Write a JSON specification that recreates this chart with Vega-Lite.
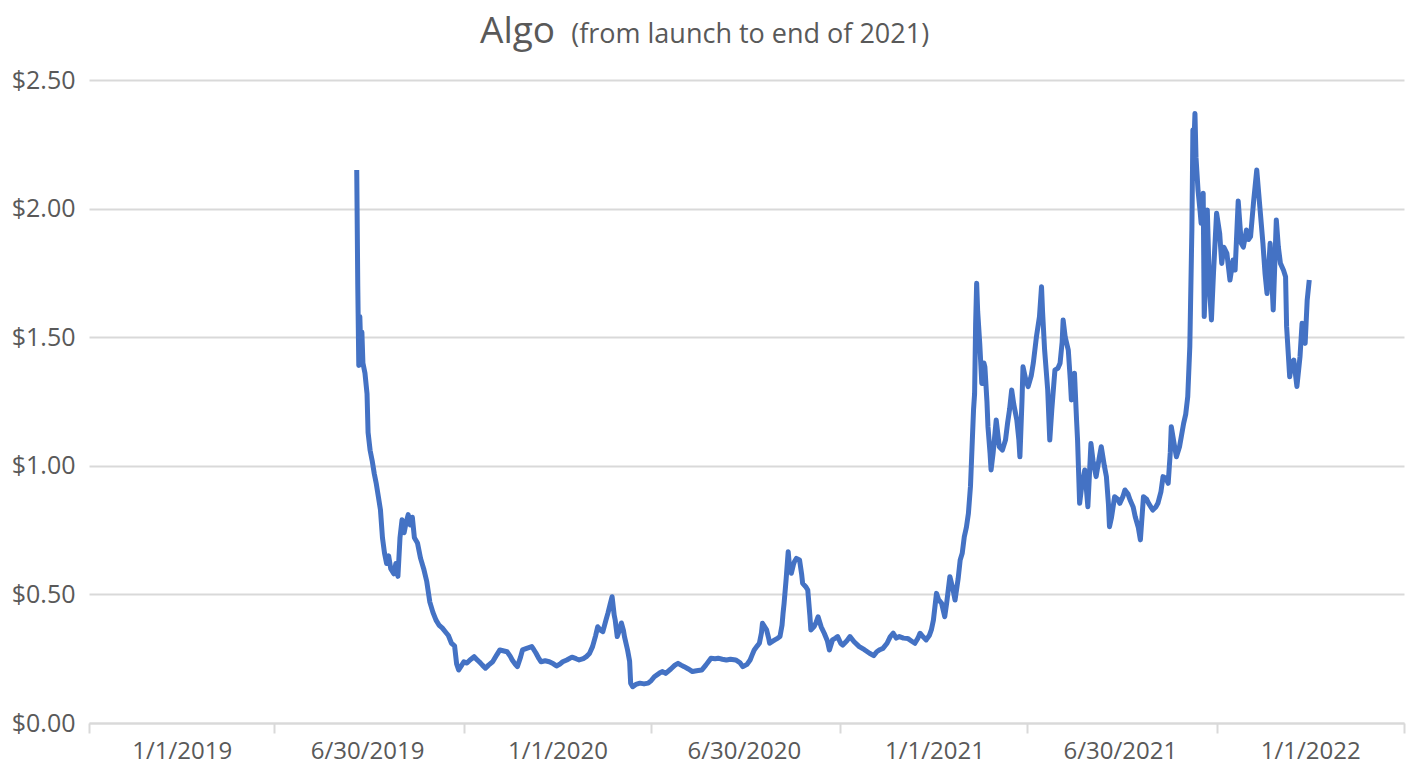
{
  "$schema": "https://vega.github.io/schema/vega-lite/v6.json",
  "autosize": {"type": "none"},
  "width": 1315,
  "height": 643,
  "padding": {"left": 89, "top": 80, "right": 9, "bottom": 46},
  "background": "white",
  "title": {
    "text": "Algo",
    "subtitle": "\u200b\u00a0\u00a0\u00a0\u00a0\u00a0\u00a0\u00a0\u00a0\u00a0\u00a0\u00a0\u00a0\u00a0(from launch to end of 2021)",
    "anchor": "start",
    "frame": "group",
    "dx": 391,
    "font": "Open Sans",
    "fontSize": 37,
    "fontWeight": "normal",
    "color": "#595959",
    "subtitleFont": "Open Sans",
    "subtitleFontSize": 27,
    "subtitleColor": "#595959",
    "subtitlePadding": -29,
    "offset": 17
  },
  "config": {"view": {"stroke": null}},
  "data": {"values": [
    {"date":"2019-06-20","price":2.15},{"date":"2019-06-21","price":1.70},{"date":"2019-06-22","price":1.39},{"date":"2019-06-23","price":1.58},{"date":"2019-06-24","price":1.45},{"date":"2019-06-25","price":1.52},{"date":"2019-06-26","price":1.40},{"date":"2019-06-28","price":1.36},{"date":"2019-06-30","price":1.28},
    {"date":"2019-07-01","price":1.13},{"date":"2019-07-03","price":1.06},{"date":"2019-07-05","price":1.02},{"date":"2019-07-07","price":0.97},{"date":"2019-07-09","price":0.93},{"date":"2019-07-11","price":0.88},{"date":"2019-07-13","price":0.83},{"date":"2019-07-15","price":0.72},{"date":"2019-07-17","price":0.66},{"date":"2019-07-19","price":0.62},{"date":"2019-07-21","price":0.65},{"date":"2019-07-23","price":0.60},{"date":"2019-07-26","price":0.58},{"date":"2019-07-28","price":0.62},{"date":"2019-07-30","price":0.57},
    {"date":"2019-08-01","price":0.72},{"date":"2019-08-03","price":0.79},{"date":"2019-08-05","price":0.74},{"date":"2019-08-07","price":0.78},{"date":"2019-08-09","price":0.81},{"date":"2019-08-11","price":0.77},{"date":"2019-08-13","price":0.80},{"date":"2019-08-15","price":0.72},{"date":"2019-08-18","price":0.70},{"date":"2019-08-21","price":0.64},{"date":"2019-08-24","price":0.60},{"date":"2019-08-27","price":0.55},{"date":"2019-08-30","price":0.47},
    {"date":"2019-09-02","price":0.43},{"date":"2019-09-05","price":0.40},{"date":"2019-09-08","price":0.38},{"date":"2019-09-11","price":0.37},{"date":"2019-09-14","price":0.355},{"date":"2019-09-17","price":0.34},{"date":"2019-09-20","price":0.31},{"date":"2019-09-23","price":0.30},{"date":"2019-09-25","price":0.23},{"date":"2019-09-27","price":0.206},{"date":"2019-09-30","price":0.225},
    {"date":"2019-10-02","price":0.238},{"date":"2019-10-05","price":0.233},{"date":"2019-10-08","price":0.245},{"date":"2019-10-12","price":0.258},{"date":"2019-10-15","price":0.245},{"date":"2019-10-17","price":0.238},{"date":"2019-10-20","price":0.225},{"date":"2019-10-23","price":0.213},{"date":"2019-10-26","price":0.225},{"date":"2019-10-30","price":0.238},
    {"date":"2019-11-03","price":0.265},{"date":"2019-11-06","price":0.284},{"date":"2019-11-10","price":0.280},{"date":"2019-11-13","price":0.277},{"date":"2019-11-16","price":0.26},{"date":"2019-11-18","price":0.245},{"date":"2019-11-21","price":0.228},{"date":"2019-11-23","price":0.219},{"date":"2019-11-26","price":0.255},{"date":"2019-11-28","price":0.284},
    {"date":"2019-12-02","price":0.29},{"date":"2019-12-07","price":0.297},{"date":"2019-12-09","price":0.285},{"date":"2019-12-11","price":0.272},{"date":"2019-12-14","price":0.25},{"date":"2019-12-16","price":0.238},{"date":"2019-12-20","price":0.242},{"date":"2019-12-24","price":0.238},{"date":"2019-12-28","price":0.23},{"date":"2019-12-31","price":0.222},
    {"date":"2020-01-03","price":0.228},{"date":"2020-01-06","price":0.238},{"date":"2020-01-10","price":0.245},{"date":"2020-01-15","price":0.256},{"date":"2020-01-19","price":0.25},{"date":"2020-01-22","price":0.245},{"date":"2020-01-26","price":0.25},{"date":"2020-01-29","price":0.258},
    {"date":"2020-02-01","price":0.27},{"date":"2020-02-04","price":0.297},{"date":"2020-02-07","price":0.34},{"date":"2020-02-09","price":0.374},{"date":"2020-02-12","price":0.36},{"date":"2020-02-14","price":0.355},{"date":"2020-02-17","price":0.40},{"date":"2020-02-19","price":0.428},{"date":"2020-02-21","price":0.46},{"date":"2020-02-23","price":0.491},{"date":"2020-02-25","price":0.42},{"date":"2020-02-26","price":0.40},{"date":"2020-02-28","price":0.336},
    {"date":"2020-03-01","price":0.36},{"date":"2020-03-03","price":0.389},{"date":"2020-03-05","price":0.36},{"date":"2020-03-06","price":0.336},{"date":"2020-03-09","price":0.284},{"date":"2020-03-11","price":0.24},{"date":"2020-03-12","price":0.155},{"date":"2020-03-14","price":0.141},{"date":"2020-03-17","price":0.15},{"date":"2020-03-21","price":0.155},{"date":"2020-03-25","price":0.152},{"date":"2020-03-29","price":0.155},
    {"date":"2020-04-01","price":0.165},{"date":"2020-04-04","price":0.18},{"date":"2020-04-09","price":0.194},{"date":"2020-04-12","price":0.20},{"date":"2020-04-15","price":0.193},{"date":"2020-04-20","price":0.21},{"date":"2020-04-24","price":0.225},{"date":"2020-04-27","price":0.232},{"date":"2020-04-30","price":0.225},
    {"date":"2020-05-03","price":0.219},{"date":"2020-05-07","price":0.21},{"date":"2020-05-11","price":0.20},{"date":"2020-05-15","price":0.203},{"date":"2020-05-20","price":0.206},{"date":"2020-05-24","price":0.225},{"date":"2020-05-29","price":0.252},
    {"date":"2020-06-02","price":0.25},{"date":"2020-06-05","price":0.252},{"date":"2020-06-09","price":0.248},{"date":"2020-06-13","price":0.245},{"date":"2020-06-17","price":0.248},{"date":"2020-06-22","price":0.245},{"date":"2020-06-26","price":0.235},{"date":"2020-06-29","price":0.219},
    {"date":"2020-07-03","price":0.228},{"date":"2020-07-06","price":0.245},{"date":"2020-07-08","price":0.265},{"date":"2020-07-10","price":0.284},{"date":"2020-07-13","price":0.30},{"date":"2020-07-15","price":0.31},{"date":"2020-07-17","price":0.35},{"date":"2020-07-18","price":0.388},{"date":"2020-07-20","price":0.375},{"date":"2020-07-22","price":0.362},{"date":"2020-07-24","price":0.33},{"date":"2020-07-25","price":0.31},{"date":"2020-07-28","price":0.318},{"date":"2020-07-30","price":0.323},
    {"date":"2020-08-02","price":0.33},{"date":"2020-08-04","price":0.336},{"date":"2020-08-06","price":0.38},{"date":"2020-08-07","price":0.427},{"date":"2020-08-08","price":0.465},{"date":"2020-08-10","price":0.56},{"date":"2020-08-12","price":0.666},{"date":"2020-08-13","price":0.62},{"date":"2020-08-15","price":0.582},{"date":"2020-08-17","price":0.615},{"date":"2020-08-18","price":0.627},{"date":"2020-08-20","price":0.64},{"date":"2020-08-23","price":0.634},{"date":"2020-08-25","price":0.58},{"date":"2020-08-26","price":0.543},{"date":"2020-08-29","price":0.53},{"date":"2020-08-31","price":0.517},
    {"date":"2020-09-02","price":0.42},{"date":"2020-09-03","price":0.362},{"date":"2020-09-06","price":0.374},{"date":"2020-09-08","price":0.39},{"date":"2020-09-10","price":0.413},{"date":"2020-09-13","price":0.374},{"date":"2020-09-16","price":0.349},{"date":"2020-09-19","price":0.32},{"date":"2020-09-21","price":0.284},{"date":"2020-09-24","price":0.323},{"date":"2020-09-27","price":0.33},{"date":"2020-09-29","price":0.336},
    {"date":"2020-10-02","price":0.31},{"date":"2020-10-04","price":0.303},{"date":"2020-10-08","price":0.32},{"date":"2020-10-11","price":0.336},{"date":"2020-10-15","price":0.316},{"date":"2020-10-20","price":0.297},{"date":"2020-10-25","price":0.285},{"date":"2020-10-30","price":0.271},
    {"date":"2020-11-03","price":0.262},{"date":"2020-11-06","price":0.277},{"date":"2020-11-09","price":0.285},{"date":"2020-11-12","price":0.29},{"date":"2020-11-16","price":0.31},{"date":"2020-11-19","price":0.335},{"date":"2020-11-22","price":0.349},{"date":"2020-11-25","price":0.33},{"date":"2020-11-28","price":0.336},
    {"date":"2020-12-02","price":0.33},{"date":"2020-12-06","price":0.329},{"date":"2020-12-10","price":0.318},{"date":"2020-12-13","price":0.31},{"date":"2020-12-16","price":0.33},{"date":"2020-12-18","price":0.349},{"date":"2020-12-21","price":0.335},{"date":"2020-12-24","price":0.323},{"date":"2020-12-27","price":0.34},{"date":"2020-12-29","price":0.362},{"date":"2020-12-31","price":0.40},
    {"date":"2021-01-03","price":0.504},{"date":"2021-01-05","price":0.48},{"date":"2021-01-08","price":0.465},{"date":"2021-01-11","price":0.413},{"date":"2021-01-13","price":0.47},{"date":"2021-01-16","price":0.569},{"date":"2021-01-19","price":0.52},{"date":"2021-01-21","price":0.478},{"date":"2021-01-24","price":0.56},{"date":"2021-01-26","price":0.634},{"date":"2021-01-28","price":0.66},{"date":"2021-01-30","price":0.724},
    {"date":"2021-02-01","price":0.76},{"date":"2021-02-03","price":0.815},{"date":"2021-02-05","price":0.92},{"date":"2021-02-06","price":1.02},{"date":"2021-02-08","price":1.22},{"date":"2021-02-09","price":1.28},{"date":"2021-02-10","price":1.55},{"date":"2021-02-11","price":1.71},{"date":"2021-02-12","price":1.60},{"date":"2021-02-14","price":1.476},{"date":"2021-02-16","price":1.32},{"date":"2021-02-18","price":1.40},{"date":"2021-02-19","price":1.385},{"date":"2021-02-21","price":1.25},{"date":"2021-02-22","price":1.152},{"date":"2021-02-24","price":1.05},{"date":"2021-02-25","price":0.984},{"date":"2021-02-27","price":1.05},
    {"date":"2021-03-02","price":1.178},{"date":"2021-03-05","price":1.074},{"date":"2021-03-08","price":1.061},{"date":"2021-03-11","price":1.10},{"date":"2021-03-13","price":1.165},{"date":"2021-03-15","price":1.22},{"date":"2021-03-17","price":1.295},{"date":"2021-03-19","price":1.24},{"date":"2021-03-22","price":1.178},{"date":"2021-03-24","price":1.10},{"date":"2021-03-25","price":1.035},{"date":"2021-03-27","price":1.25},{"date":"2021-03-28","price":1.385},{"date":"2021-03-31","price":1.33},
    {"date":"2021-04-02","price":1.308},{"date":"2021-04-05","price":1.35},{"date":"2021-04-07","price":1.399},{"date":"2021-04-10","price":1.50},{"date":"2021-04-13","price":1.58},{"date":"2021-04-15","price":1.696},{"date":"2021-04-16","price":1.60},{"date":"2021-04-18","price":1.45},{"date":"2021-04-21","price":1.295},{"date":"2021-04-23","price":1.10},{"date":"2021-04-25","price":1.22},{"date":"2021-04-28","price":1.372},
    {"date":"2021-05-01","price":1.38},{"date":"2021-05-03","price":1.399},{"date":"2021-05-05","price":1.48},{"date":"2021-05-06","price":1.567},{"date":"2021-05-08","price":1.50},{"date":"2021-05-11","price":1.45},{"date":"2021-05-13","price":1.33},{"date":"2021-05-14","price":1.256},{"date":"2021-05-17","price":1.36},{"date":"2021-05-19","price":1.18},{"date":"2021-05-20","price":1.10},{"date":"2021-05-22","price":0.854},{"date":"2021-05-24","price":0.92},{"date":"2021-05-27","price":0.984},{"date":"2021-05-30","price":0.841},
    {"date":"2021-06-02","price":1.087},{"date":"2021-06-04","price":1.02},{"date":"2021-06-07","price":0.958},{"date":"2021-06-10","price":1.03},{"date":"2021-06-12","price":1.074},{"date":"2021-06-15","price":1.00},{"date":"2021-06-17","price":0.958},{"date":"2021-06-19","price":0.85},{"date":"2021-06-20","price":0.763},{"date":"2021-06-22","price":0.80},{"date":"2021-06-25","price":0.88},{"date":"2021-06-28","price":0.87},{"date":"2021-06-30","price":0.854},
    {"date":"2021-07-03","price":0.88},{"date":"2021-07-05","price":0.906},{"date":"2021-07-08","price":0.89},{"date":"2021-07-10","price":0.867},{"date":"2021-07-13","price":0.84},{"date":"2021-07-15","price":0.802},{"date":"2021-07-18","price":0.76},{"date":"2021-07-20","price":0.712},{"date":"2021-07-23","price":0.88},{"date":"2021-07-26","price":0.87},{"date":"2021-07-28","price":0.854},
    {"date":"2021-08-01","price":0.828},{"date":"2021-08-04","price":0.84},{"date":"2021-08-06","price":0.854},{"date":"2021-08-09","price":0.90},{"date":"2021-08-11","price":0.958},{"date":"2021-08-14","price":0.95},{"date":"2021-08-16","price":0.932},{"date":"2021-08-18","price":1.05},{"date":"2021-08-19","price":1.152},{"date":"2021-08-22","price":1.08},{"date":"2021-08-24","price":1.035},{"date":"2021-08-27","price":1.074},{"date":"2021-08-31","price":1.165},
    {"date":"2021-09-02","price":1.20},{"date":"2021-09-04","price":1.269},{"date":"2021-09-06","price":1.463},{"date":"2021-09-08","price":1.917},{"date":"2021-09-09","price":2.306},{"date":"2021-09-10","price":2.25},{"date":"2021-09-11","price":2.37},{"date":"2021-09-12","price":2.20},{"date":"2021-09-14","price":2.07},{"date":"2021-09-16","price":1.99},{"date":"2021-09-17","price":1.943},{"date":"2021-09-19","price":2.06},{"date":"2021-09-20","price":1.58},{"date":"2021-09-22","price":1.80},{"date":"2021-09-23","price":1.995},{"date":"2021-09-25","price":1.70},{"date":"2021-09-27","price":1.567},{"date":"2021-09-29","price":1.75},
    {"date":"2021-10-02","price":1.982},{"date":"2021-10-05","price":1.904},{"date":"2021-10-07","price":1.787},{"date":"2021-10-09","price":1.85},{"date":"2021-10-12","price":1.826},{"date":"2021-10-15","price":1.722},{"date":"2021-10-18","price":1.80},{"date":"2021-10-20","price":1.761},{"date":"2021-10-23","price":2.03},{"date":"2021-10-26","price":1.865},{"date":"2021-10-28","price":1.85},{"date":"2021-10-31","price":1.917},
    {"date":"2021-11-02","price":1.88},{"date":"2021-11-04","price":1.891},{"date":"2021-11-07","price":2.03},{"date":"2021-11-10","price":2.15},{"date":"2021-11-13","price":2.007},{"date":"2021-11-16","price":1.865},{"date":"2021-11-18","price":1.75},{"date":"2021-11-20","price":1.67},{"date":"2021-11-23","price":1.865},{"date":"2021-11-26","price":1.606},{"date":"2021-11-29","price":1.956},
    {"date":"2021-12-01","price":1.85},{"date":"2021-12-03","price":1.787},{"date":"2021-12-06","price":1.76},{"date":"2021-12-08","price":1.735},{"date":"2021-12-09","price":1.541},{"date":"2021-12-12","price":1.346},{"date":"2021-12-14","price":1.40},{"date":"2021-12-16","price":1.411},{"date":"2021-12-19","price":1.308},{"date":"2021-12-22","price":1.424},{"date":"2021-12-24","price":1.554},{"date":"2021-12-27","price":1.476},{"date":"2021-12-29","price":1.645},{"date":"2021-12-31","price":1.722}
  ]},
  "mark": {"type": "line", "color": "#4472C4", "strokeWidth": 5, "strokeJoin": "round"},
  "encoding": {
    "x": {
      "field": "date",
      "type": "temporal",
      "scale": {"domain": [{"year": 2018, "month": 10, "date": 3}, {"year": 2022, "month": 4, "date": 2}]},
      "axis": {
        "title": null,
        "values": [
          {"year": 2018, "month": 10, "date": 3},
          {"year": 2019, "month": 1, "date": 1},
          {"year": 2019, "month": 4, "date": 1},
          {"year": 2019, "month": 6, "date": 30},
          {"year": 2019, "month": 10, "date": 2},
          {"year": 2020, "month": 1, "date": 1},
          {"year": 2020, "month": 4, "date": 1},
          {"year": 2020, "month": 6, "date": 30},
          {"year": 2020, "month": 10, "date": 1},
          {"year": 2021, "month": 1, "date": 1},
          {"year": 2021, "month": 4, "date": 1},
          {"year": 2021, "month": 6, "date": 30},
          {"year": 2021, "month": 10, "date": 2},
          {"year": 2022, "month": 1, "date": 1},
          {"year": 2022, "month": 4, "date": 2}
        ],
        "labelExpr": "(month(datum.value) == 0 || month(datum.value) == 5) ? timeFormat(datum.value, '%-m/%-d/%Y') : ''",
        "tickOpacity": {"condition": {"test": "month(datum.value) == 0 || month(datum.value) == 5", "value": 0}, "value": 1},
        "tickColor": "#D9D9D9",
        "tickWidth": 2,
        "tickSize": 10,
        "domainColor": "#D9D9D9",
        "domainWidth": 2,
        "grid": false,
        "labelFont": "Open Sans",
        "labelFontSize": 24,
        "labelColor": "#595959",
        "labelPadding": 6,
        "labelOverlap": false,
        "labelFlush": false,
        "labelBound": false
      }
    },
    "y": {
      "field": "price",
      "type": "quantitative",
      "scale": {"domain": [0, 2.5]},
      "axis": {
        "title": null,
        "values": [0, 0.5, 1, 1.5, 2, 2.5],
        "format": "$.2f",
        "grid": true,
        "gridColor": "#D9D9D9",
        "gridWidth": 2,
        "ticks": false,
        "domain": false,
        "labelFont": "Open Sans",
        "labelFontSize": 25,
        "labelColor": "#595959",
        "labelPadding": 14
      }
    }
  }
}
